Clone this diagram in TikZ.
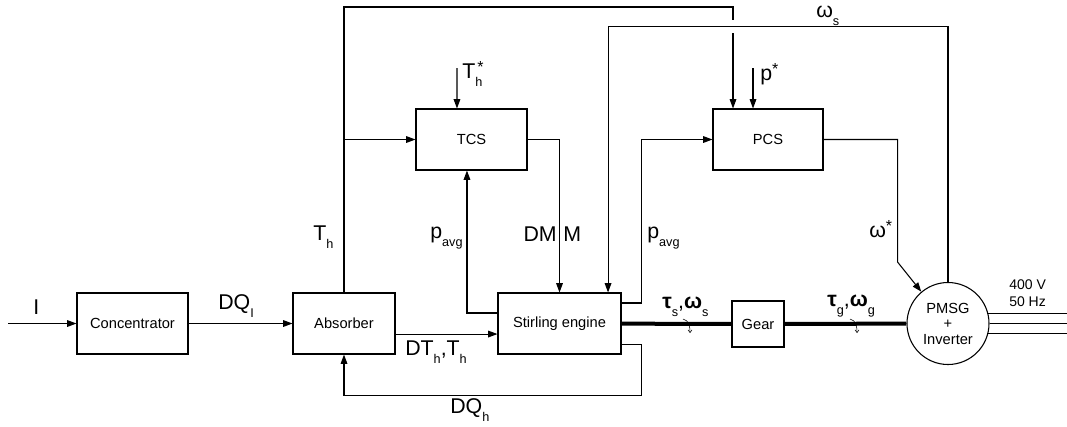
\documentclass[tikz,border=0pt]{standalone}
\usepackage{fontspec}
\setmainfont{Liberation Sans}
\usetikzlibrary{arrows.meta}
\newcommand{\lo}[1]{\raisebox{-6.5pt}{\fontsize{9.5}{9.5}\selectfont #1}}
\newcommand{\hi}[1]{\raisebox{4.5pt}{\fontsize{12}{12}\selectfont #1}}
\tikzset{
    block/.style={draw, line width=0.8pt, minimum width=83.25pt, minimum height=45.75pt, inner sep=0pt, font=\fontsize{11}{13}\selectfont},
    machine/.style={draw, circle, line width=0.8pt, minimum size=61.5pt, inner sep=0pt, align=center, font=\fontsize{11}{11.6}\selectfont},
    lbl/.style={inner sep=0pt, anchor=base west, font=\fontsize{16}{18}\selectfont},
    note/.style={inner sep=0pt, anchor=base west, font=\fontsize{10.5}{12}\selectfont},
    wire/.style={line width=0.8pt},
    sig/.style={line width=0.8pt, -{Triangle[length=7pt,width=5pt]}},
    shaft/.style={line width=3pt},
    rot/.style={line width=0.4pt, -{Straight Barb[length=2pt,width=3pt]}},
}
\begin{document}
\begin{tikzpicture}[x=0.75pt,y=-0.75pt]
    \useasboundingbox (0,0) rectangle (1067,426);
    % blocks
    \node[block] (conc) at (132.5,323.5) {Concentrator};
    \node[block, minimum width=76.5pt] (abs) at (344,323.5) {Absorber};
    \node[block, minimum width=92.25pt] (stir) at (559.5,323.5) {Stirling engine};
    \node[block, minimum width=39pt, minimum height=34.5pt] (gear) at (758,324) {Gear};
    \node[block] (tcs) at (471.5,139.5) {TCS};
    \node[block, minimum width=82.5pt] (pcs) at (768,139.5) {PCS};
    \node[machine] (pmsg) at (948,323.5) {PMSG\\+\\Inverter};
    % free ends
    \coordinate (sun) at (8,323.5);
    \coordinate (grid) at (1067,323.5);
    \coordinate (thref) at (457,68);
    \coordinate (pref) at (753,68);
    \coordinate (corner) at (733,7);
    \coordinate (jump) at (733,20);
    % signals
    \draw[sig] (sun) -- (conc);
    \draw[sig] (conc) -- (abs);
    \draw[sig] ([yshift=-7.9pt]abs.east) -- ([yshift=-7.9pt]stir.west);
    \draw[sig] ([yshift=-15.4pt]stir.east) -- ++(20,0) -- ++(0,51) -| (abs.south);
    \draw[sig] ([yshift=7.9pt]stir.west) -| ([xshift=-3.4pt]tcs.south);
    \draw[sig] (tcs.east) -| (stir.north);
    \draw[sig] ([yshift=15.4pt]stir.east) -- ++(20,0) |- (pcs.west);
    \draw[sig] (pcs.east) -- ++(74,0) -- ++(0,122.5) -- (pmsg.130);
    \draw[sig] (pmsg.north) -- ++(0,-255.5) -| ([xshift=36.4pt]stir.north);
    \draw[wire] (abs.north) |- (corner) -- (jump);
    \draw[sig] ([yshift=-9.75pt]jump) -- ([xshift=-26.25pt]pcs.north);
    \draw[sig] (abs.north |- tcs.west) -- (tcs.west);
    \draw[sig] (thref) -- ([xshift=-10.9pt]tcs.north);
    \draw[sig] (pref) -- ([xshift=-11.25pt]pcs.north);
    % shaft and grid
    \draw[shaft] (stir) -- (gear);
    \draw[shaft] (gear) -- (pmsg);
    \foreach \a in {14,0,-14}
        \draw[wire] (pmsg.\a) -- (pmsg.\a -| grid);
    \draw[rot] (683,319) to[out=-10,in=90] (690,333);
    \draw[rot] (850,319) to[out=-10,in=90] (857,333);
    % labels
    \node[lbl] (lI) at (33,314) {I};
    \node[lbl] (lDQI) at (218,309) {DQ\lo{I}};
    \node[lbl] (lTh) at (313,240) {T\lo{h}};
    \node[lbl] (lpavg) at (430,238) {p\lo{avg}};
    \node[lbl, anchor=base east] (lDM) at (557,241) {DM};
    \node[lbl] (lM) at (563,241) {M};
    \node[lbl] (lpavgb) at (647,238) {p\lo{avg}};
    \node[lbl] (lwref) at (869,237) {ω\hi{*}};
    \node[lbl] (lws) at (816,17) {ω\lo{s}};
    \node[lbl] (lThref) at (462,78) {T\rlap{\hspace{1.5pt}\hi{*}}\lo{h}};
    \node[lbl] (lpref) at (760,80) {p\hi{*}};
    \node[lbl] (lDT) at (405,355) {DT\lo{h},T\lo{h}};
    \node[lbl] (lDQh) at (450,413) {DQ\lo{h}};
    \node[lbl] (ltaus) at (662,308) {\textbf{τ}\lo{s},\textbf{ω}\lo{s}};
    \node[lbl] (ltaug) at (827,306) {\textbf{τ}\lo{g},\textbf{ω}\lo{g}};
    \node[note] (lvolt) at (1009,289) {400 V};
    \node[note] (lfreq) at (1009,306) {50 Hz};
\end{tikzpicture}
\end{document}
